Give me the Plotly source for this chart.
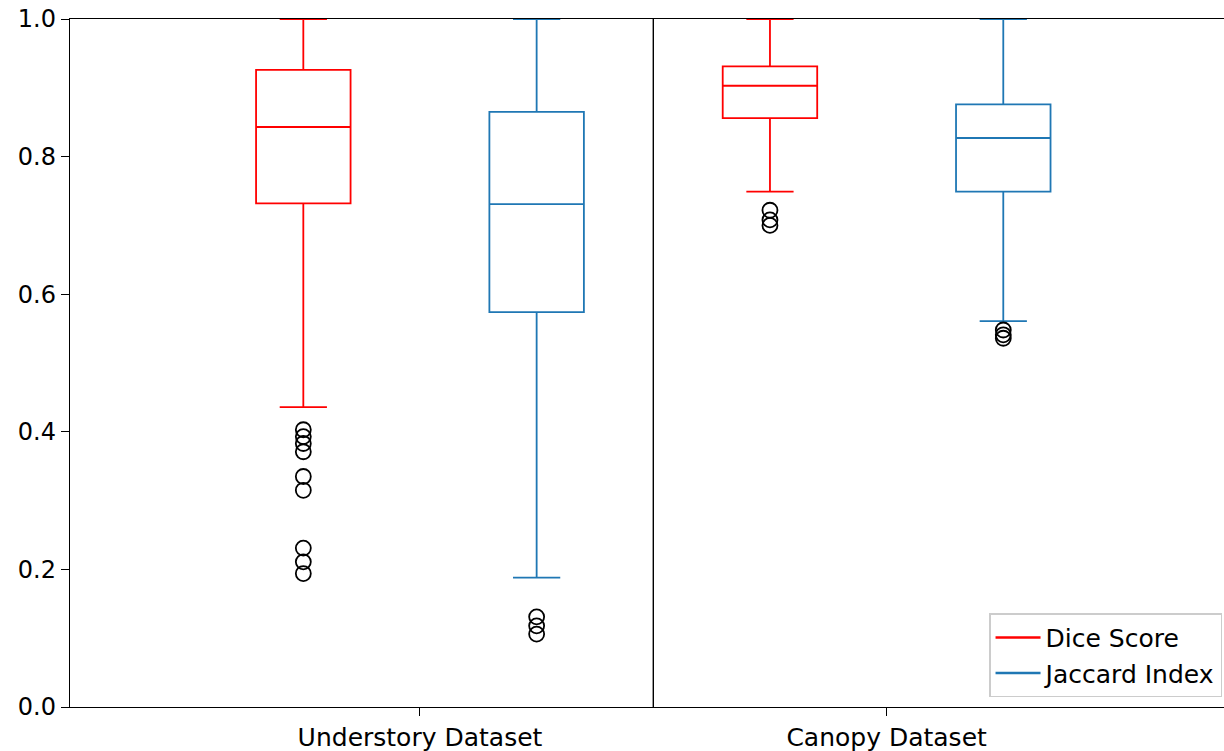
import plotly.graph_objects as go

groups = ["Understory Dataset", "Canopy Dataset"]
series_names = ["Dice Score", "Jaccard Index"]

dice_q1 = [0.732, 0.856]
dice_median = [0.843, 0.903]
dice_q3 = [0.926, 0.931]
dice_lower = [0.436, 0.749]
dice_upper = [1.0, 1.0]
dice_outliers = [
    [0.403, 0.393, 0.383, 0.371, 0.335, 0.315, 0.231, 0.211, 0.194],
    [0.722, 0.708, 0.700],
]

jacc_q1 = [0.574, 0.749]
jacc_median = [0.731, 0.827]
jacc_q3 = [0.865, 0.876]
jacc_lower = [0.188, 0.561]
jacc_upper = [1.0, 1.0]
jacc_outliers = [
    [0.131, 0.118, 0.106],
    [0.548, 0.541, 0.536],
]

y_ticks = [0.0, 0.2, 0.4, 0.6, 0.8, 1.0]

RED = "#ff0000"
BLUE = "#1f77b4"
FONT = "DejaVu Sans"

series = [
    (dice_q1, dice_median, dice_q3, dice_lower, dice_upper, dice_outliers, RED),
    (jacc_q1, jacc_median, jacc_q3, jacc_lower, jacc_upper, jacc_outliers, BLUE),
]

fig = go.Figure()
for si, (q1, med, q3, lo, up, outs, col) in enumerate(series):
    for gi in range(len(groups)):
        xpos = 1 + 2 * gi + si
        fig.add_trace(go.Box(
            x=[xpos], q1=[q1[gi]], median=[med[gi]], q3=[q3[gi]],
            lowerfence=[lo[gi]], upperfence=[up[gi]],
            width=0.405, whiskerwidth=0.5,
            line=dict(color=col, width=1.8),
            fillcolor="rgba(0,0,0,0)",
            boxpoints=False, showlegend=False, hoverinfo="skip",
        ))
        fig.add_trace(go.Scatter(
            x=[xpos] * len(outs[gi]), y=outs[gi], mode="markers",
            marker=dict(symbol="circle-open", size=15, color="black",
                        line=dict(width=1.8, color="black")),
            showlegend=False, hoverinfo="skip",
        ))

for name, col in zip(series_names, [RED, BLUE]):
    fig.add_trace(go.Scatter(x=[None], y=[None], mode="lines", name=name,
                             line=dict(color=col, width=2.5)))

fig.add_shape(type="line", xref="x", yref="y", x0=2.5, x1=2.5, y0=0, y1=1,
              line=dict(color="black", width=1.4))

fig.update_layout(
    width=1224, height=751,
    margin=dict(l=70, r=0, t=19, b=44),
    paper_bgcolor="white", plot_bgcolor="white",
    font=dict(family=FONT, size=25, color="black"),
    xaxis=dict(range=[0, 4.946], tickvals=[1.5, 3.5], ticktext=groups,
               ticks="outside", ticklen=8, tickwidth=1.4, tickcolor="black",
               showline=True, linecolor="black", linewidth=1.4, mirror=True,
               showgrid=False, zeroline=False, tickfont=dict(size=25)),
    yaxis=dict(range=[0, 1], tickvals=y_ticks, tickformat=".1f",
               ticks="outside", ticklen=8, tickwidth=1.4, tickcolor="black",
               showline=True, linecolor="black", linewidth=1.4,
               showgrid=False, zeroline=False, tickfont=dict(size=24)),
    legend=dict(x=0.9983, xanchor="right", y=0.014, yanchor="bottom",
                bgcolor="rgba(255,255,255,0.8)", bordercolor="#cccccc",
                borderwidth=1.5, font=dict(size=25), itemwidth=45),
)

fig.write_html("out.html")
